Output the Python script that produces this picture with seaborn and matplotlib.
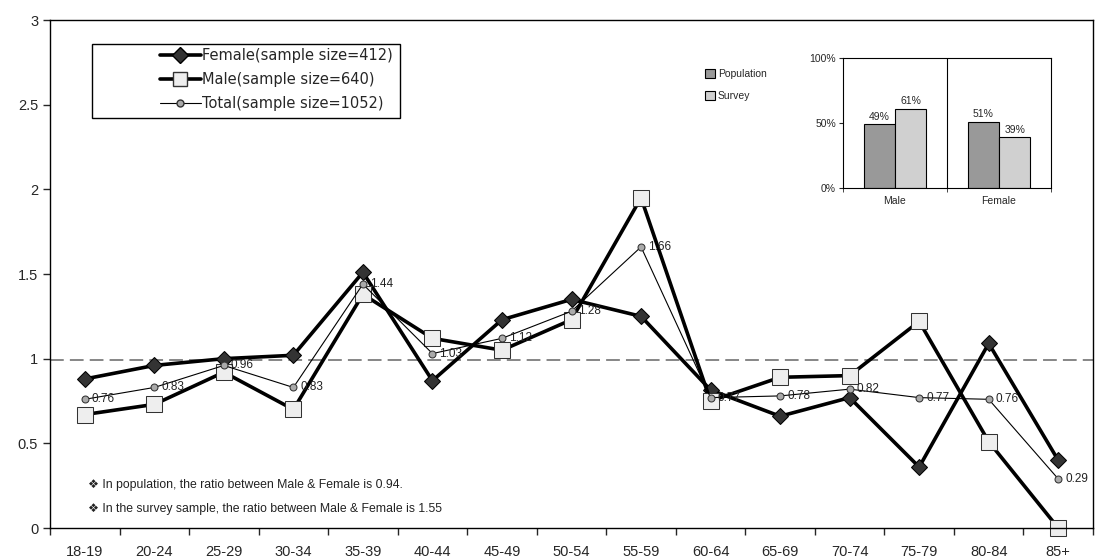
import pandas as pd
import seaborn as sns
import matplotlib.pyplot as plt
from matplotlib.lines import Line2D
from matplotlib.patches import Patch, Rectangle

# Data
ages = ["18-19", "20-24", "25-29", "30-34", "35-39", "40-44", "45-49", "50-54",
        "55-59", "60-64", "65-69", "70-74", "75-79", "80-84", "85+"]
female = [0.88, 0.96, 1.00, 1.02, 1.51, 0.87, 1.23, 1.35, 1.25, 0.815, 0.66, 0.77, 0.36, 1.09, 0.40]
male = [0.67, 0.73, 0.92, 0.70, 1.38, 1.12, 1.05, 1.23, 1.95, 0.75, 0.89, 0.90, 1.22, 0.51, 0.0]
total = [0.76, 0.83, 0.96, 0.83, 1.44, 1.03, 1.12, 1.28, 1.66, 0.77, 0.78, 0.82, 0.77, 0.76, 0.29]
ref_level = 0.99

sexes = ["Male", "Female"]
population_share = [49, 51]
survey_share = [61, 39]

notes = ["In population, the ratio between Male & Female is 0.94.",
         "In the survey sample, the ratio between Male & Female is 1.55"]

sns.set_style("white")
plt.rcParams['font.family'] = ['Liberation Sans', 'DejaVu Sans']

fig = plt.figure(figsize=(11.04, 5.58), dpi=100)
ax = fig.add_axes([50 / 1104, 1 - 528 / 558, (1093 - 50) / 1104, (528 - 20) / 558])

sns.lineplot(x=ages, y=female, ax=ax, color="black", lw=2.6, marker="D", markersize=8,
             markerfacecolor="#333333", markeredgecolor="black", sort=False, clip_on=False)
sns.lineplot(x=ages, y=male, ax=ax, color="black", lw=2.6, marker="s", markersize=11,
             markerfacecolor="#eeeeee", markeredgecolor="#333333", sort=False, clip_on=False)
sns.lineplot(x=ages, y=total, ax=ax, color="black", lw=0.8, marker="o", markersize=5,
             markerfacecolor="#aaaaaa", markeredgecolor="#333333", sort=False, clip_on=False)

for i, v in enumerate(total):
    ax.annotate(f"{v:.2f}", (i, v), xytext=(5, 0), textcoords="offset points",
                va="center", ha="left", fontsize=8.5, color="#222222")

ax.axhline(ref_level, color="#666666", lw=1.1, dashes=(9, 4), zorder=0)

ax.set_xlim(-0.5, len(ages) - 0.5)
ax.set_ylim(0, 3)
ax.set_yticks([0, 0.5, 1, 1.5, 2, 2.5, 3])
ax.set_yticklabels(["0", "0.5", "1", "1.5", "2", "2.5", "3"], fontsize=10.5)
ax.set_xticks(range(len(ages)))
ax.set_xticklabels(ages, fontsize=10.5)
ax.set_xticks([i - 0.5 for i in range(len(ages) + 1)], minor=True)
ax.tick_params(axis="x", which="major", length=0, pad=12)
ax.tick_params(axis="x", which="minor", length=5, width=1, direction="out", bottom=True)
ax.tick_params(axis="y", length=5, width=1, direction="out", left=True)
for s in ax.spines.values():
    s.set_color("black")
    s.set_linewidth(1)
ax.set_xlabel("")
ax.set_ylabel("")

# legend: frameless, with a box drawn around it like the original
handles = [
    Line2D([], [], color="black", lw=2.6, marker="D", markersize=8,
           markerfacecolor="#333333", markeredgecolor="black"),
    Line2D([], [], color="black", lw=2.6, marker="s", markersize=10,
           markerfacecolor="#eeeeee", markeredgecolor="#333333"),
    Line2D([], [], color="black", lw=0.8, marker="o", markersize=5,
           markerfacecolor="#aaaaaa", markeredgecolor="#333333"),
]
labels = ["Female(sample size=412)", "Male(sample size=640)", "Total(sample size=1052)"]
ax.legend(handles, labels, loc="upper right", bbox_to_anchor=((396 - 50) / 1043, 1 - 25 / 508),
          frameon=False, prop={"family": "DejaVu Sans", "size": 10.5},
          handlelength=2.8, handletextpad=0.1, borderpad=0.2, labelspacing=0.62,
          borderaxespad=0)
ax.add_patch(Rectangle(((92 - 50) / 1043, 1 - (118 - 20) / 508), (400 - 92) / 1043, 74 / 508,
                       transform=ax.transAxes, fill=False, edgecolor="black", lw=1, zorder=5))

for k, t in enumerate(notes):
    ax.text(0.036, 0.085 - k * 0.047, "\u2756 " + t, transform=ax.transAxes,
            fontsize=8.8, va="center", ha="left", color="#222222")

# Inset bar chart
inset = fig.add_axes([843 / 1104, 1 - 188 / 558, (1051 - 843) / 1104, (188 - 58) / 558])
bar_df = pd.DataFrame({
    "sex": sexes * 2,
    "share": population_share + survey_share,
    "group": ["Population"] * 2 + ["Survey"] * 2,
})
sns.barplot(data=bar_df, x="sex", y="share", hue="group", ax=inset,
            palette=["#999999", "#d0d0d0"], edgecolor="black", linewidth=0.8,
            width=0.6, legend=False)
for cont in inset.containers:
    inset.bar_label(cont, labels=[f"{int(b.get_height())}%" for b in cont],
                    fontsize=7.5, padding=2)
inset.set_ylim(0, 100)
inset.set_xlim(-0.5, 1.5)
inset.set_yticks([0, 50, 100])
inset.set_yticklabels(["0%", "50%", "100%"], fontsize=7.5)
inset.tick_params(axis="x", which="major", length=0, labelsize=7.5, pad=6)
inset.set_xticks([-0.5, 0.5, 1.5], minor=True)
inset.tick_params(axis="x", which="minor", length=3, direction="out", bottom=True)
inset.tick_params(axis="y", length=3, direction="out", left=True, pad=2)
inset.axvline(0.5, color="black", lw=0.8)
for s in inset.spines.values():
    s.set_color("black")
    s.set_linewidth(0.8)
inset.set_xlabel("")
inset.set_ylabel("")

inset_handles = [Patch(facecolor="#999999", edgecolor="black", lw=0.8),
                 Patch(facecolor="#d0d0d0", edgecolor="black", lw=0.8)]
fig.legend(inset_handles, ["Population", "Survey"], loc="upper left",
           bbox_to_anchor=(696 / 1104, 1 - 60 / 558), frameon=False, fontsize=7.5,
           handlelength=0.9, handleheight=0.9, handletextpad=0.3, labelspacing=1.1)

fig.savefig("out.png", dpi=100)
